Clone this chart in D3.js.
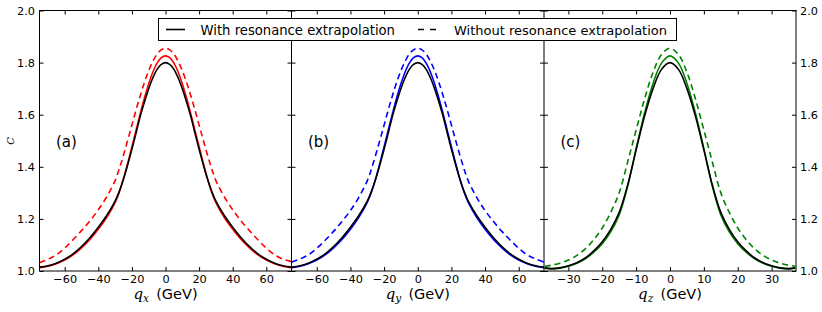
<!DOCTYPE html>
<html><head><meta charset="utf-8">
<script src="https://cdn.jsdelivr.net/npm/d3@7/dist/d3.min.js"></script>
<style>body{margin:0;background:#fff}svg{display:block}</style>
</head><body>
<svg id="chart" width="822" height="312"></svg>
<script>
// ---------- DATA ----------
const qXY = [-75,-70,-65,-60,-55,-50,-45,-40,-35,-30,-27.5,-25,-22.5,-20,-17.5,-15,-12.5,-10,-7.5,-5,-2.5,0,
             2.5,5,7.5,10,12.5,15,17.5,20,22.5,25,27.5,30,35,40,45,50,55,60,65,70,75];
const qZ  = [-37,-35,-32.5,-30,-27.5,-25,-22.5,-20,-17.5,-15,-12.5,-10,-7.5,-5,-2.5,0,
             2.5,5,7.5,10,12.5,15,17.5,20,22.5,25,27.5,30,32.5,35,37];

// panel (a): q_x
const blackA  = [1.015,1.020,1.030,1.045,1.066,1.094,1.128,1.168,1.213,1.268,1.306,1.353,1.408,1.467,1.530,1.595,1.650,1.700,1.742,1.774,1.793,1.800,
                 1.793,1.774,1.742,1.700,1.650,1.595,1.530,1.467,1.408,1.353,1.306,1.268,1.213,1.168,1.128,1.094,1.066,1.045,1.030,1.020,1.015];
const solidA  = [1.013,1.018,1.028,1.042,1.062,1.089,1.121,1.160,1.205,1.262,1.302,1.354,1.414,1.477,1.541,1.605,1.665,1.719,1.764,1.798,1.819,1.826,
                 1.819,1.798,1.764,1.719,1.665,1.605,1.541,1.477,1.414,1.354,1.302,1.262,1.205,1.160,1.121,1.089,1.062,1.042,1.028,1.018,1.013];
const dashedA = [1.032,1.045,1.062,1.088,1.120,1.155,1.192,1.235,1.285,1.347,1.393,1.445,1.502,1.560,1.619,1.674,1.725,1.769,1.805,1.833,1.849,1.855,
                 1.849,1.833,1.805,1.769,1.725,1.674,1.619,1.560,1.502,1.445,1.393,1.347,1.285,1.235,1.192,1.155,1.120,1.088,1.062,1.045,1.036];

// panel (b): q_y
const blackB  = [1.015,1.020,1.030,1.045,1.066,1.094,1.128,1.168,1.213,1.268,1.306,1.353,1.408,1.467,1.530,1.595,1.650,1.700,1.742,1.774,1.793,1.800,
                 1.793,1.774,1.742,1.700,1.650,1.595,1.530,1.467,1.408,1.353,1.306,1.268,1.213,1.168,1.128,1.094,1.066,1.045,1.030,1.020,1.015];
const solidB  = [1.013,1.018,1.028,1.042,1.062,1.089,1.121,1.160,1.206,1.263,1.303,1.354,1.414,1.477,1.541,1.605,1.665,1.719,1.764,1.798,1.819,1.826,
                 1.819,1.798,1.764,1.719,1.665,1.605,1.541,1.477,1.414,1.354,1.303,1.263,1.206,1.160,1.121,1.089,1.062,1.042,1.028,1.018,1.013];
const dashedB = [1.034,1.046,1.062,1.087,1.118,1.152,1.190,1.232,1.283,1.346,1.392,1.445,1.502,1.560,1.619,1.674,1.725,1.769,1.805,1.833,1.849,1.855,
                 1.849,1.833,1.805,1.769,1.725,1.674,1.619,1.560,1.502,1.445,1.392,1.346,1.283,1.232,1.190,1.152,1.118,1.087,1.062,1.046,1.034];

// panel (c): q_z
const blackC  = [1.012,1.009,1.012,1.020,1.032,1.050,1.077,1.112,1.160,1.225,1.330,1.465,1.595,1.700,1.774,1.800,
                 1.774,1.700,1.595,1.465,1.330,1.225,1.160,1.112,1.077,1.050,1.032,1.020,1.012,1.009,1.012];
const solidC  = [1.011,1.008,1.011,1.018,1.030,1.047,1.072,1.105,1.150,1.215,1.325,1.470,1.607,1.720,1.798,1.826,
                 1.798,1.720,1.607,1.470,1.325,1.215,1.150,1.105,1.072,1.047,1.030,1.018,1.011,1.008,1.011];
const dashedC = [1.018,1.022,1.030,1.042,1.060,1.085,1.120,1.165,1.225,1.300,1.419,1.541,1.661,1.763,1.831,1.855,
                 1.831,1.763,1.661,1.541,1.419,1.300,1.225,1.165,1.120,1.085,1.060,1.042,1.030,1.022,1.018];

const yTicks  = [1.0,1.2,1.4,1.6,1.8,2.0];
const xTicksXY = [-60,-40,-20,0,20,40,60];
const xTicksZ  = [-30,-20,-10,0,10,20,30];
const panelLabels = ["(a)","(b)","(c)"];
const axisSubs = ["x","y","z"];
const legendLabels = ["With resonance extrapolation","Without resonance extrapolation"];

// ---------- DRAW ----------
const svg = d3.select("#chart");
const FONT = "'DejaVu Sans', sans-serif";
const y = d3.scaleLinear().domain([1,2]).range([271,10.5]);

const panels = [
  {x0:39.5, x1:291.5, dom:[-75,75], ticks:xTicksXY, q:qXY, black:blackA, solid:solidA, dashed:dashedA, color:"#ff0000"},
  {x0:291.5,x1:544,   dom:[-75,75], ticks:xTicksXY, q:qXY, black:blackB, solid:solidB, dashed:dashedB, color:"#0000ff"},
  {x0:544,  x1:796,   dom:[-37.2,37.2], ticks:xTicksZ, q:qZ, black:blackC, solid:solidC, dashed:dashedC, color:"#008000"}
];

const fmtX = d => d3.format("")(d);
panels.forEach((p,i) => {
  const x = d3.scaleLinear().domain(p.dom).range([p.x0,p.x1]);
  const g = svg.append("g");
  const cid = "clip"+i;
  svg.append("clipPath").attr("id",cid).append("rect")
     .attr("x",p.x0).attr("y",10.5).attr("width",p.x1-p.x0).attr("height",271-10.5);

  const line = arr => d3.line().x((d,k)=>x(p.q[k])).y(d=>y(d)).curve(d3.curveCatmullRom.alpha(0.5))(arr);
  const cg = g.append("g").attr("clip-path",`url(#${cid})`);
  cg.append("path").attr("d",line(p.dashed)).attr("fill","none").attr("stroke",p.color)
    .attr("stroke-width",1.6).attr("stroke-dasharray","6,4");
  cg.append("path").attr("d",line(p.solid)).attr("fill","none").attr("stroke",p.color).attr("stroke-width",1.6);
  cg.append("path").attr("d",line(p.black)).attr("fill","none").attr("stroke","#000").attr("stroke-width",1.6);

  // axes
  const ax = g.append("g").attr("transform","translate(0,271)")
    .call(d3.axisBottom(x).tickValues(p.ticks).tickSize(-4).tickPadding(3.5).tickFormat(fmtX));
  const axT = g.append("g").attr("transform","translate(0,10.5)")
    .call(d3.axisTop(x).tickValues(p.ticks).tickSize(-4).tickFormat(""));
  const ayL = g.append("g").attr("transform",`translate(${p.x0},0)`)
    .call(d3.axisLeft(y).tickValues(yTicks).tickSize(-4).tickPadding(4.5)
      .tickFormat(i===0 ? d3.format(".1f") : ""));
  const ayR = g.append("g").attr("transform",`translate(${p.x1},0)`)
    .call(d3.axisRight(y).tickValues(yTicks).tickSize(-4).tickPadding(4)
      .tickFormat(i===2 ? d3.format(".1f") : ""));
  [ax,axT,ayL,ayR].forEach(a => {
    a.select(".domain").remove();
    a.selectAll("text").attr("font-family",FONT).attr("font-size","11.3px").attr("fill","#000");
    a.selectAll("line").attr("stroke","#000").attr("stroke-width",1);
  });

  // panel label
  g.append("text").attr("x",p.x0+16.5).attr("y",146.5).attr("font-family",FONT)
    .attr("font-size","15px").text(panelLabels[i]);

  // x axis label
  const t = g.append("text").attr("x",(p.x0+p.x1)/2).attr("y",298.5).attr("text-anchor","middle")
    .attr("font-family",FONT).attr("font-size","14.5px");
  t.append("tspan").attr("font-family","'DejaVu Serif', serif").attr("font-style","italic").attr("font-size","15px").text("q");
  t.append("tspan").attr("font-family","'DejaVu Serif', serif").attr("font-style","italic").attr("font-size","10.5px").attr("dy",3.5).text(axisSubs[i]);
  t.append("tspan").attr("dy",-3.5).text("\u2002(GeV)");
});

// spines
const sp = svg.append("g").attr("fill","none");
sp.append("line").attr("x1",39.5).attr("x2",39.5).attr("y1",10).attr("y2",271).attr("stroke","#000");
sp.append("line").attr("x1",291.5).attr("x2",291.5).attr("y1",10).attr("y2",271).attr("stroke","#000");
sp.append("line").attr("x1",544).attr("x2",544).attr("y1",10).attr("y2",271).attr("stroke","#000");
sp.append("line").attr("x1",796).attr("x2",796).attr("y1",10).attr("y2",271).attr("stroke","#000");
sp.append("line").attr("x1",39).attr("x2",796.5).attr("y1",10.5).attr("y2",10.5).attr("stroke","#000");
sp.append("line").attr("x1",39).attr("x2",796.5).attr("y1",271).attr("y2",271).attr("stroke","#000");

// y label
svg.append("text").attr("transform","translate(14,141) rotate(-90)").attr("text-anchor","middle")
  .attr("font-family","'DejaVu Serif', serif").attr("font-style","italic").attr("font-size","10px").text("C");

// legend
const lg = svg.append("g");
lg.append("rect").attr("x",158.5).attr("y",18.5).attr("width",518).attr("height",22)
  .attr("fill","#fff").attr("stroke","#000").attr("stroke-width",1);
lg.append("line").attr("x1",166).attr("x2",185).attr("y1",29.5).attr("y2",29.5).attr("stroke","#000").attr("stroke-width",1.6);
lg.append("text").attr("x",200.5).attr("y",34.5).attr("font-family",FONT).attr("font-size","13.2px").text(legendLabels[0]);
lg.append("line").attr("x1",418).attr("x2",437).attr("y1",29.5).attr("y2",29.5).attr("stroke","#000").attr("stroke-width",1.6).attr("stroke-dasharray","6,6");
lg.append("text").attr("x",454).attr("y",34.5).attr("font-family",FONT).attr("font-size","13px").text(legendLabels[1]);
</script>
</body></html>
